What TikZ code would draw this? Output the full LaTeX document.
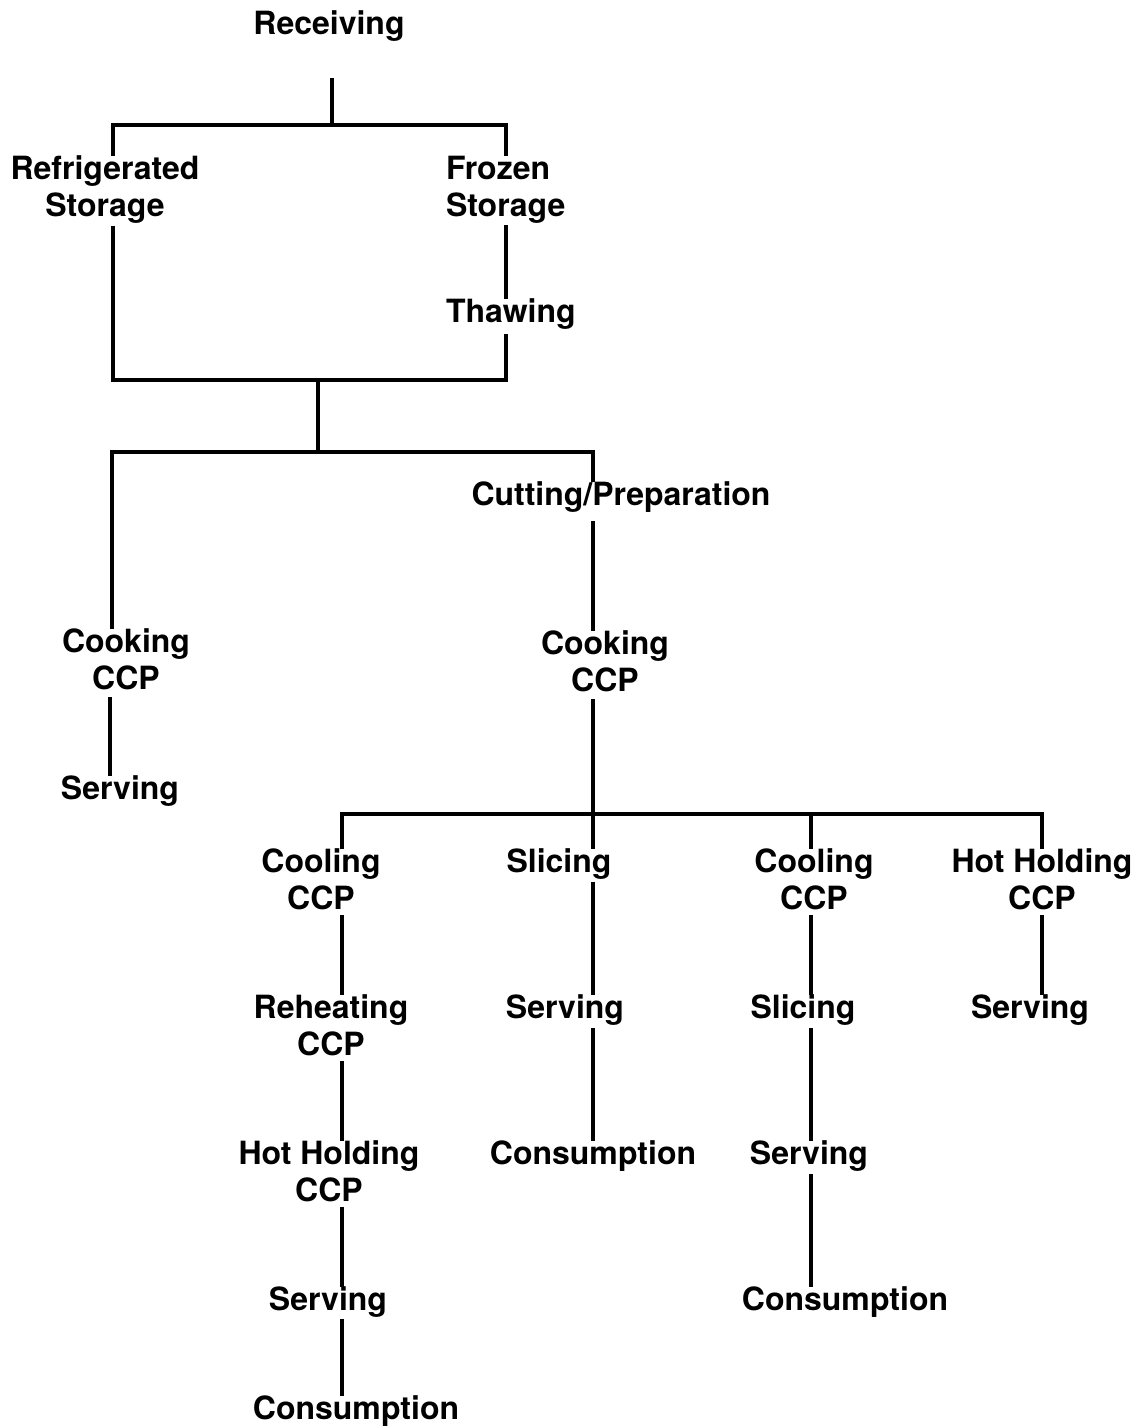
\documentclass[tikz,border=0pt]{standalone}
\usepackage{fontspec}
\setmainfont{TeX Gyre Heros}
\usetikzlibrary{calc}
\begin{document}
\begin{tikzpicture}[x=1pt,y=-1pt,
  lbl/.style={inner sep=0pt, outer sep=0pt, anchor=north, align=center,
    font=\fontsize{32}{37}\selectfont\bfseries},
  conn/.style={draw, line width=4pt, line join=miter}]
\useasboundingbox (0,0) rectangle (1139,1428);
% nodes
\node[lbl] (rec) at (329,11) {Receiving};
\node[lbl] (refr) at (105,156) {Refrigerated\\Storage};
\node[lbl, anchor=north west, align=left] (froz) at (446,156) {Frozen\\Storage};
\node[lbl, anchor=north west] (thaw) at (446,299) {Thawing};
\node[lbl] (cut) at (621,482) {Cutting/Preparation};
\node[lbl] (cookL) at (126,629) {Cooking\\CCP};
\node[lbl] (servL) at (120,776) {Serving};
\node[lbl] (cookR) at (605,631) {Cooking\\CCP};
\node[lbl] (coolL) at (321,849) {Cooling\\CCP};
\node[lbl] (slice1) at (559,849) {Slicing};
\node[lbl] (coolR) at (814,849) {Cooling\\CCP};
\node[lbl] (hotR) at (1042,849) {Hot Holding\\CCP};
\node[lbl] (reheat) at (331,995) {Reheating\\CCP};
\node[lbl] (serv1) at (565,995) {Serving};
\node[lbl] (sliceR) at (803,995) {Slicing};
\node[lbl] (servR1) at (1030,995) {Serving};
\node[lbl] (hotL) at (329,1141) {Hot Holding\\CCP};
\node[lbl] (cons1) at (593,1141) {Consumption};
\node[lbl] (servR2) at (809,1141) {Serving};
\node[lbl] (servL2) at (328,1287) {Serving};
\node[lbl] (consR) at (845,1287) {Consumption};
\node[lbl] (consL) at (356,1396) {Consumption};
% junctions and columns
\coordinate (r0) at (332,78);
\coordinate (j1) at (332,125);
\coordinate (j2) at (318,380);
\coordinate (j3) at (318,452);
\coordinate (j4) at (593,814);
\coordinate (xa) at (113,0);
\coordinate (xb) at (506,0);
\coordinate (xc) at (112,0);
\coordinate (xc2) at (110,0);
\coordinate (xd) at (593,0);
\coordinate (xe) at (342,0);
\coordinate (xg) at (811,0);
\coordinate (xh) at (1042,0);
% connectors
\draw[conn] (r0) -- (j1);
\draw[conn] (refr.north -| xa) |- (j1) -| (froz.north -| xb);
\draw[conn] ($(refr.south -| xa)+(0,2)$) |- (j2) -| ($(thaw.south -| xb)+(0,4)$);
\draw[conn] ($(froz.south -| xb)+(0,2)$) -- (thaw.north -| xb);
\draw[conn] (j2) -- (j3);
\draw[conn] (cookL.north -| xc) |- (j3) -| (cut.north -| xd);
\draw[conn] ($(cut.south -| xd)+(0,8)$) -- (cookR.north -| xd);
\draw[conn] ($(cookL.south -| xc2)+(0,7)$) -- (servL.north -| xc2);
\draw[conn] ($(cookR.south -| xd)+(0,7)$) -- (j4);
\draw[conn] (coolL.north -| xe) |- (j4) -| (hotR.north -| xh);
\draw[conn] (j4) -- (slice1.north -| xd);
\draw[conn] (j4 -| xg) -- (coolR.north -| xg);
% left column
\draw[conn] ($(coolL.south -| xe)+(0,5)$) -- (reheat.north -| xe);
\draw[conn] ($(reheat.south -| xe)+(0,5)$) -- (hotL.north -| xe);
\draw[conn] ($(hotL.south -| xe)+(0,5)$) -- (servL2.north -| xe);
\draw[conn] ($(servL2.south -| xe)+(0,1)$) -- (consL.north -| xe);
% middle column
\draw[conn] ($(slice1.south -| xd)+(0,2)$) -- (serv1.north -| xd);
\draw[conn] ($(serv1.south -| xd)+(0,2)$) -- (cons1.north -| xd);
% right column
\draw[conn] ($(coolR.south -| xg)+(0,5)$) -- (sliceR.north -| xg);
\draw[conn] ($(sliceR.south -| xg)+(0,2)$) -- (servR2.north -| xg);
\draw[conn] ($(servR2.south -| xg)+(0,2)$) -- (consR.north -| xg);
% far right
\draw[conn] ($(hotR.south -| xh)+(0,5)$) -- (servR1.north -| xh);
\end{tikzpicture}
\end{document}
